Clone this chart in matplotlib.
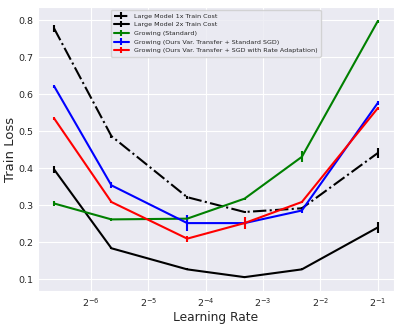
import matplotlib
matplotlib.use("Agg")
import matplotlib.pyplot as plt
import seaborn as sns
import numpy as np

sns.set_style("darkgrid")
plt.rcParams['font.family'] = ['DejaVu Sans']

learning_rates = [0.01, 0.02, 0.05, 0.1, 0.2, 0.5]

large_1x = [0.778, 0.487, 0.322, 0.282, 0.292, 0.441]
large_1x_err = [0.010, 0.004, 0.004, 0.004, 0.004, 0.013]
large_2x = [0.397, 0.184, 0.127, 0.106, 0.127, 0.240]
large_2x_err = [0.010, 0.003, 0.003, 0.003, 0.003, 0.015]
grow_std = [0.305, 0.262, 0.264, 0.318, 0.431, 0.797]
grow_std_err = [0.008, 0.003, 0.010, 0.003, 0.015, 0.004]
grow_var = [0.622, 0.354, 0.252, 0.252, 0.286, 0.576]
grow_var_err = [0.004, 0.008, 0.022, 0.004, 0.008, 0.006]
grow_rate = [0.535, 0.309, 0.210, 0.252, 0.309, 0.562]
grow_rate_err = [0.004, 0.004, 0.008, 0.016, 0.004, 0.004]

labels = [
    "Large Model 1x Train Cost",
    "Large Model 2x Train Cost",
    "Growing (Standard)",
    "Growing (Ours Var. Transfer + Standard SGD)",
    "Growing (Ours Var. Transfer + SGD with Rate Adaptation)",
]

fig = plt.figure(figsize=(3.99, 3.32), dpi=100)
ax = fig.add_axes([0.095, 0.123, 0.892, 0.856])

series = [
    (large_1x, large_1x_err, "black", "-."),
    (large_2x, large_2x_err, "black", "-"),
    (grow_std, grow_std_err, "green", "-"),
    (grow_var, grow_var_err, "blue", "-"),
    (grow_rate, grow_rate_err, "red", "-"),
]
for (vals, errs, c, ls), lab in zip(series, labels):
    ax.errorbar(learning_rates, vals, yerr=errs, color=c, linestyle=ls,
                linewidth=1.5, elinewidth=1.5, capsize=0, label=lab)

ax.set_xscale("log", base=2)
ax.set_xlabel("Learning Rate", fontsize=8.8, labelpad=2)
ax.set_ylabel("Train Loss", fontsize=9.5, labelpad=1)
ax.tick_params(axis="both", labelsize=6.8, length=0, pad=3.5)
ax.set_yticks([0.1, 0.2, 0.3, 0.4, 0.5, 0.6, 0.7, 0.8])
ax.legend(loc="upper center", bbox_to_anchor=(0.5, 1.0), fontsize=4.6,
          frameon=True, handlelength=2.3, labelspacing=0.5, borderpad=0.5)

fig.savefig("out.png", dpi=100)
